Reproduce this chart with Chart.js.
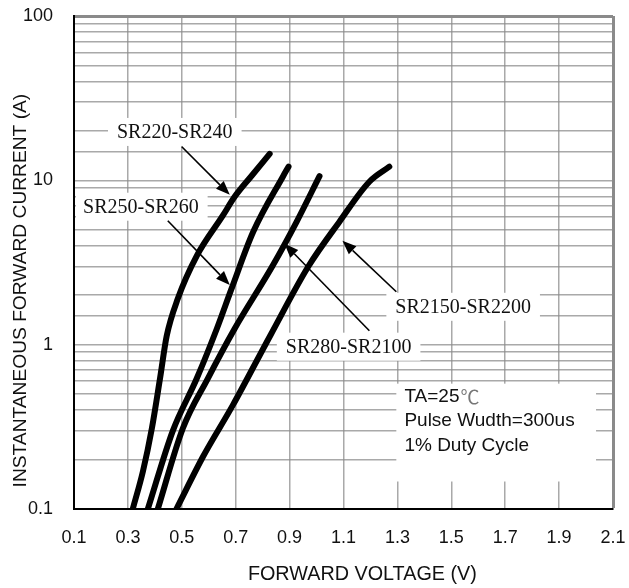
<!DOCTYPE html>
<html>
<head>
<meta charset="utf-8">
<script src="https://cdn.jsdelivr.net/npm/chart.js@4.4.0/dist/chart.umd.min.js"></script>
<style>
html, body { margin: 0; padding: 0; background: #fff; }
</style>
</head>
<body>
<canvas id="myChart" width="629" height="588"></canvas>
<script>
// forward voltage (V) vs instantaneous forward current (A)
const seriesNames = ['SR220-SR240', 'SR250-SR260', 'SR280-SR2100', 'SR2150-SR2200'];

const volt220 = [0.318, 0.356, 0.389, 0.419, 0.444, 0.485, 0.556, 0.652, 0.696, 0.76, 0.826];
const amp220  = [0.1, 0.17, 0.31, 0.62, 1.13, 1.9, 3.48, 6.09, 7.94, 10.7, 14.5];

const volt250 = [0.374, 0.467, 0.555, 0.63, 0.685, 0.765, 0.876, 0.896];
const amp250  = [0.1, 0.3, 0.62, 1.25, 2.2, 4.86, 10.6, 12.1];

const volt280 = [0.411, 0.504, 0.596, 0.696, 0.837, 0.926, 1.011];
const amp280  = [0.1, 0.31, 0.62, 1.25, 3.02, 5.59, 10.6];

const volt2150 = [0.48, 0.58, 0.69, 0.83, 0.97, 1.085, 1.196, 1.27];
const amp2150  = [0.1, 0.21, 0.43, 1.15, 3.0, 5.6, 9.8, 12.1];

const xTickLabels = ['0.1', '0.3', '0.5', '0.7', '0.9', '1.1', '1.3', '1.5', '1.7', '1.9', '2.1'];
const yTickLabels = ['0.1', '1', '10', '100'];

const xTitle = 'FORWARD VOLTAGE (V)';
const yTitle = 'INSTANTANEOUS FORWARD CURRENT (A)';
const noteLines = ['TA=25', 'Pulse Wudth=300us', '1% Duty Cycle'];

// callouts: label centre, arrow start, arrow tip (in volt / amp)
const callouts = [
    { text: seriesNames[0], at: [0.474, 19.7], from: [0.50, 16.0], to: [0.678, 8.17] },
    { text: seriesNames[1], at: [0.348, 6.91], from: [0.448, 5.68], to: [0.678, 2.31] },
    { text: seriesNames[2], at: [1.119, 0.972], from: [1.196, 1.216], to: [0.881, 4.11] },
    { text: seriesNames[3], at: [1.544, 1.70], from: [1.296, 2.10], to: [1.096, 4.29] }
];

function pts(v, a) {
    return v.map((x, i) => ({ x: x, y: a[i] }));
}

function arrow(ctx, x1, y1, x2, y2) {
    const a = Math.atan2(y2 - y1, x2 - x1);
    const hl = 14, hw = 5.5;
    const bx = x2 - hl * Math.cos(a), by = y2 - hl * Math.sin(a);
    ctx.beginPath();
    ctx.moveTo(x1, y1);
    ctx.lineTo(bx, by);
    ctx.stroke();
    ctx.beginPath();
    ctx.moveTo(x2, y2);
    ctx.lineTo(bx + hw * Math.sin(a), by - hw * Math.cos(a));
    ctx.lineTo(bx - hw * Math.sin(a), by + hw * Math.cos(a));
    ctx.closePath();
    ctx.fill();
}

const notes = {
    id: 'notes',
    beforeDatasetsDraw(chart) {
        const ctx = chart.ctx;
        const area = chart.chartArea;
        const xs = chart.scales.x, ys = chart.scales.y;
        ctx.save();
        ctx.beginPath();
        ctx.rect(area.left + 2, area.top + 2, area.right - area.left - 4, area.bottom - area.top - 4);
        ctx.clip();
        // label boxes
        ctx.font = '20px "Liberation Serif", "Times New Roman", serif';
        ctx.textAlign = 'center';
        ctx.textBaseline = 'middle';
        callouts.forEach(c => {
            const px = xs.getPixelForValue(c.at[0]);
            const py = ys.getPixelForValue(c.at[1]);
            const w = ctx.measureText(c.text).width + 18;
            ctx.fillStyle = '#fff';
            ctx.fillRect(px - w / 2, py - 14, w, 28);
            ctx.fillStyle = '#111';
            ctx.fillText(c.text, px, py + 1);
        });
        // conditions box
        const bl = xs.getPixelForValue(1.296), br = xs.getPixelForValue(2.037);
        const bt = ys.getPixelForValue(0.579), bb = ys.getPixelForValue(0.147);
        ctx.fillStyle = '#fff';
        ctx.fillRect(bl, bt, br - bl, bb - bt);
        ctx.font = '19px "Liberation Sans", Arial, sans-serif';
        ctx.textAlign = 'left';
        ctx.fillStyle = '#111';
        const tx = xs.getPixelForValue(1.326);
        const ty = ys.getPixelForValue(0.483);
        noteLines.forEach((t, i) => ctx.fillText(t, tx, ty + i * 24.5));
        const w0 = ctx.measureText(noteLines[0]).width;
        ctx.font = '19px "Noto Sans CJK SC", sans-serif';
        ctx.fillStyle = '#777';
        ctx.fillText('℃', tx + w0 + 1, ty);
        ctx.restore();
    },
    afterDatasetsDraw(chart) {
        const ctx = chart.ctx;
        const xs = chart.scales.x, ys = chart.scales.y;
        ctx.save();
        ctx.strokeStyle = '#000';
        ctx.fillStyle = '#000';
        ctx.lineWidth = 1.6;
        callouts.forEach(c => {
            arrow(ctx,
                xs.getPixelForValue(c.from[0]), ys.getPixelForValue(c.from[1]),
                xs.getPixelForValue(c.to[0]), ys.getPixelForValue(c.to[1]));
        });
        ctx.restore();
    },
    afterDraw(chart) {
        const ctx = chart.ctx;
        const area = chart.chartArea;
        ctx.save();
        ctx.fillStyle = '#111';
        ctx.textAlign = 'center';
        ctx.textBaseline = 'middle';
        ctx.font = '19.8px "Liberation Sans", Arial, sans-serif';
        ctx.fillText(xTitle, area.left + (area.right - area.left) * 0.535, 575);
        ctx.font = '19.2px "Liberation Sans", Arial, sans-serif';
        ctx.translate(21, area.top + (area.bottom - area.top) * 0.557);
        ctx.rotate(-Math.PI / 2);
        ctx.fillText(yTitle, 0, 0);
        ctx.restore();
    }
};

const curveStyle = {
    showLine: true,
    borderColor: '#000',
    borderWidth: 6,
    borderCapStyle: 'round',
    borderJoinStyle: 'round',
    pointRadius: 0,
    cubicInterpolationMode: 'monotone',
    fill: false
};

const ctx = document.getElementById('myChart').getContext('2d');
const myChart = new Chart(ctx, {
    type: 'scatter',
    data: {
        datasets: [
            Object.assign({ label: seriesNames[0], data: pts(volt220, amp220) }, curveStyle),
            Object.assign({ label: seriesNames[1], data: pts(volt250, amp250) }, curveStyle),
            Object.assign({ label: seriesNames[2], data: pts(volt280, amp280) }, curveStyle),
            Object.assign({ label: seriesNames[3], data: pts(volt2150, amp2150) }, curveStyle)
        ]
    },
    options: {
        responsive: false,
        animation: false,
        layout: { padding: { left: 0, top: 16, right: 16, bottom: 0 } },
        plugins: {
            legend: { display: false },
            tooltip: { enabled: false }
        },
        scales: {
            x: {
                type: 'linear',
                min: 0.1,
                max: 2.1,
                afterFit: s => { s.height = 79; s.paddingLeft = 0; s.paddingRight = 0; },
                ticks: {
                    stepSize: 0.2,
                    padding: 18,
                    color: '#111',
                    font: { size: 18, family: '"Liberation Sans", Arial, sans-serif' },
                    callback: (v, i) => xTickLabels[i]
                },
                grid: {
                    drawTicks: false,
                    color: c => c.index === xTickLabels.length - 1 ? '#8a8a8a' : 'rgba(140,140,140,0.75)',
                    lineWidth: c => c.index === xTickLabels.length - 1 ? 3 : 1.5
                },
                border: { color: '#000', width: 2 }
            },
            y: {
                type: 'logarithmic',
                min: 0.1,
                max: 100,
                afterFit: s => { s.width = 74; s.paddingTop = 0; s.paddingBottom = 0; },
                ticks: {
                    padding: 21,
                    color: '#111',
                    autoSkip: false,
                    font: { size: 18, family: '"Liberation Sans", Arial, sans-serif' },
                    callback: v => {
                        const k = Math.log10(v) + 1;
                        return Math.abs(k - Math.round(k)) < 1e-6 ? yTickLabels[Math.round(k)] : '';
                    }
                },
                grid: {
                    drawTicks: false,
                    color: c => c.tick && c.tick.value >= 100 ? '#8a8a8a' : 'rgba(140,140,140,0.75)',
                    lineWidth: c => c.tick && c.tick.value >= 100 ? 3 : 1.5
                },
                border: { color: '#000', width: 2 }
            }
        }
    },
    plugins: [notes]
});
</script>
</body>
</html>
